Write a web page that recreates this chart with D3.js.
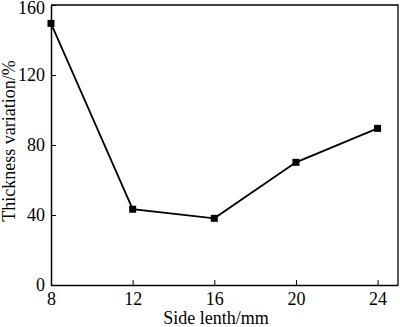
<!DOCTYPE html>
<html lang="en">
<head>
    <meta charset="UTF-8">
    <title>Thickness variation vs side length</title>
    <style>
        body { margin: 0; background: #fff; }
        svg { display: block; }
    </style>
</head>
<body>
<div id="chart"></div>
<script src="https://d3js.org/d3.v7.min.js"></script>
<script>
    // data
    const sideLength = [8, 12, 16, 20, 24];
    const thickness = [149.5, 43.3, 38.1, 70.1, 89.5];
    const xTicks = [8, 12, 16, 20, 24];
    const yTicks = [0, 40, 80, 120, 160];

    const W = 400, H = 327;
    const margin = { top: 5, right: 2, bottom: 42, left: 51 };
    const serif = "'Liberation Serif', 'Times New Roman', serif";

    const svg = d3.select("#chart").append("svg")
        .attr("width", W)
        .attr("height", H);

    const x = d3.scaleLinear().domain([8, 25]).range([margin.left, W - margin.right]);
    const y = d3.scaleLinear().domain([0, 160]).range([H - margin.bottom, margin.top]);

    // frame (top and right)
    svg.append("path")
        .attr("d", `M${x(8)},${y(160)}H${x(25)}V${y(0)}`)
        .attr("fill", "none")
        .attr("stroke", "#000")
        .attr("stroke-width", 1.3);

    // x axis, ticks pointing inward
    const xAxis = svg.append("g")
        .attr("transform", `translate(0,${y(0)})`)
        .call(d3.axisBottom(x).tickValues(xTicks).tickSize(-5).tickPadding(9).tickSizeOuter(0));

    // y axis
    const yAxis = svg.append("g")
        .attr("transform", `translate(${x(8)},0)`)
        .call(d3.axisLeft(y).tickValues(yTicks).tickSize(-5).tickPadding(6).tickSizeOuter(0));

    [xAxis, yAxis].forEach(g => {
        g.attr("font-family", serif).attr("font-size", 18);
        g.select(".domain").attr("stroke", "#000").attr("stroke-width", 1.5);
        g.selectAll(".tick line").attr("stroke", "#000").attr("stroke-width", 1);
        g.selectAll(".tick text").attr("fill", "#000");
    });
    xAxis.selectAll(".tick text").attr("dy", "0.6em");
    yAxis.selectAll(".tick text").attr("dy", "0.33em");
    yAxis.selectAll(".tick text").filter(d => d === 160).attr("dy", "0.45em");

    const pts = sideLength.map((s, i) => ({ s: s, v: thickness[i] }));

    svg.append("path")
        .datum(pts)
        .attr("d", d3.line().x(d => x(d.s)).y(d => y(d.v)))
        .attr("fill", "none")
        .attr("stroke", "#000")
        .attr("stroke-width", 1.8);

    svg.selectAll(".marker")
        .data(pts)
        .enter().append("rect")
        .attr("class", "marker")
        .attr("x", d => x(d.s) - 3.5)
        .attr("y", d => y(d.v) - 3.5)
        .attr("width", 7)
        .attr("height", 7)
        .attr("fill", "#000");

    // axis titles
    svg.append("text")
        .attr("x", 216)
        .attr("y", 324)
        .attr("text-anchor", "middle")
        .attr("font-family", serif)
        .attr("font-size", 18)
        .text("Side lenth/mm");

    svg.append("text")
        .attr("transform", "translate(14.5,141) rotate(-90)")
        .attr("text-anchor", "middle")
        .attr("font-family", serif)
        .attr("font-size", 18)
        .text("Thickness variation/%");
</script>
</body>
</html>
